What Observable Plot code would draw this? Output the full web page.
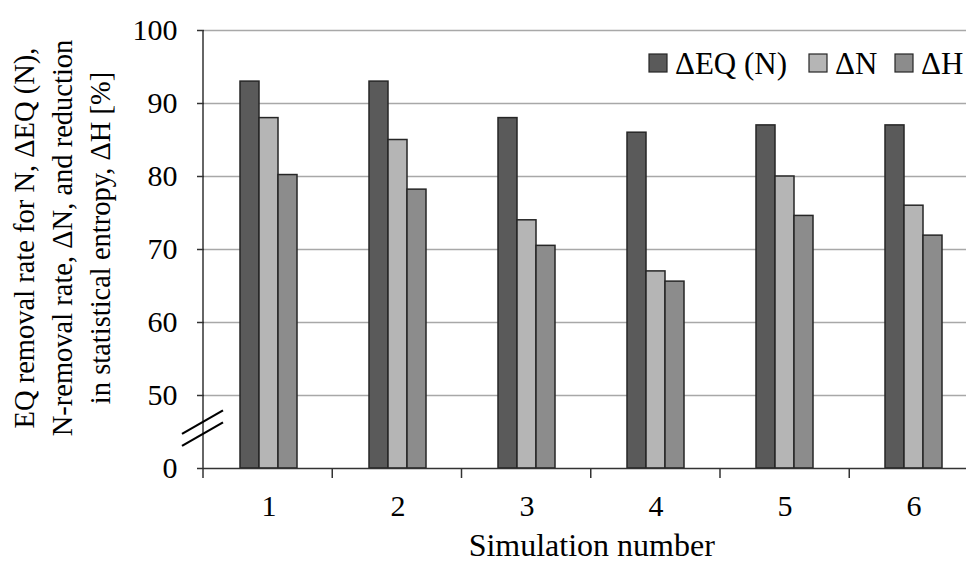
<!DOCTYPE html>
<html>
<head>
<meta charset="utf-8">
<script src="https://cdn.jsdelivr.net/npm/d3@7"></script>
<script src="https://cdn.jsdelivr.net/npm/@observablehq/plot@0.6"></script>
<style>
  html, body { margin: 0; padding: 0; background: #fff; overflow: hidden; }
  #chart svg { display: block; overflow: hidden; }
</style>
</head>
<body>
<div id="chart"></div>
<script>
// ---- data ----
const sims = ["1", "2", "3", "4", "5", "6"];
const seriesNames = ["ΔEQ (N)", "ΔN", "ΔH"];
const eqValues = [93, 93, 88, 86, 87, 87];
const nValues = [88, 85, 74, 67, 80, 76];
const hValues = [80.2, 78.2, 70.5, 65.6, 74.6, 71.9];
const yTicks = [40, 50, 60, 70, 80, 90, 100];
const yTickLabels = ["0", "50", "60", "70", "80", "90", "100"];
const gridTicks = [50, 60, 70, 80, 90, 100];
const yBreak = 40;      // value drawn as "0" (broken axis)
const breakAt = 45.5;   // where the break marks sit
const colors = ["#5a5a5a", "#b5b5b5", "#8c8c8c"];
const xTitle = "Simulation number";
const yTitleLines = [
  "EQ removal rate for N, ΔEQ (N),",
  "N-removal rate, ΔN, and reduction",
  "in statistical entropy, ΔH [%]"
];

const seriesValues = [eqValues, nValues, hValues];
const data = sims.flatMap((s, i) =>
  seriesNames.map((name, j) => ({sim: s, series: name, value: seriesValues[j][i]}))
);

const font = "'Liberation Serif', 'Times New Roman', serif";

const plot = Plot.plot({
  width: 966,
  height: 562,
  marginTop: 30,
  marginBottom: 94,
  marginLeft: 203,
  marginRight: 0,
  style: {fontFamily: font, fontSize: "30px", color: "#000", background: "#fff"},
  fx: {domain: sims, range: [203, 978.5], padding: 0, label: null},
  x: {domain: seriesNames, paddingInner: 0, paddingOuter: 1.73, axis: null},
  y: {domain: [yBreak, 100], axis: null, label: null},
  color: {domain: seriesNames, range: colors},
  marks: [
    Plot.ruleY(gridTicks, {stroke: "#a8a8a8", strokeWidth: 1.5}),
    Plot.barY(data, {
      fx: "sim", x: "series", y1: yBreak, y2: "value",
      fill: "series", stroke: "#262626", strokeWidth: 1.5
    }),
    Plot.ruleY([yBreak], {stroke: "#333", strokeWidth: 1.5}),
    Plot.axisY({
      anchor: "left", ticks: yTicks, label: null,
      tickFormat: d => yTickLabels[yTicks.indexOf(d)],
      tickSize: 7, tickPadding: 20, fontSize: 30, stroke: "#333", strokeWidth: 1.5
    }),
    Plot.axisFx({anchor: "bottom", tickSize: 0, tickPadding: 26, fontSize: 30, label: null})
  ]
});

document.getElementById("chart").appendChild(plot);

// ---- decorations computed from the plot's scales ----
const sy = plot.scale("y");
const y = d3.scaleLinear(sy.domain, sy.range);
const sfx = plot.scale("fx");
const fx = d3.scaleBand()
  .domain(sfx.domain).range(sfx.range)
  .paddingInner(sfx.paddingInner ?? 0).paddingOuter(sfx.paddingOuter ?? 0)
  .align(sfx.align ?? 0.5);
const sc = plot.scale("color");

const svg = d3.select(plot);
const g = svg.append("g").attr("text-anchor", "start");
const x0 = sfx.range[0], x1 = sfx.range[1];
const yBase = y(yBreak);

// y axis line (extends below as first boundary tick)
g.append("line").attr("x1", x0).attr("x2", x0).attr("y1", y(100)).attr("y2", yBase + 10)
  .attr("stroke", "#333").attr("stroke-width", 1.5);
// category boundary ticks
const bounds = sims.map(s => fx(s)).concat([x1]);
g.selectAll("line.b").data(bounds.slice(1)).join("line")
  .attr("x1", d => d).attr("x2", d => d)
  .attr("y1", yBase).attr("y2", yBase + 10)
  .attr("stroke", "#333").attr("stroke-width", 1.5);

// axis break marks
const cy = y(breakAt);
[-6, 6].forEach(off => {
  g.append("line")
    .attr("x1", x0 - 21).attr("y1", cy + off + 12)
    .attr("x2", x0 + 20).attr("y2", cy + off - 11.5)
    .attr("stroke", "#000").attr("stroke-width", 2.2);
});

// x title
g.append("text").attr("x", (x0 + x1) / 2 + 1).attr("y", yBase + 88)
  .attr("text-anchor", "middle").attr("font-family", font).attr("font-size", 32)
  .text(xTitle);

// y title (three lines)
const yMid = 238;
[24, 62, 100].forEach((xc, i) => {
  g.append("text")
    .attr("transform", `translate(${xc},${yMid}) rotate(-90)`)
    .attr("text-anchor", "middle").attr("dy", "0.35em")
    .attr("font-family", font).attr("font-size", 28.5)
    .text(yTitleLines[i]);
});

// legend
const legendX = [649, 809, 895];
const legend = g.append("g").attr("text-anchor", "start");
seriesNames.forEach((name, i) => {
  legend.append("rect").attr("x", legendX[i]).attr("y", 54).attr("width", 18).attr("height", 18)
    .attr("fill", sc.range[i]).attr("stroke", "#262626").attr("stroke-width", 1.2);
  legend.append("text").attr("x", legendX[i] + 26).attr("y", 74)
    .attr("font-family", font).attr("font-size", 31).text(name);
});
</script>
</body>
</html>
